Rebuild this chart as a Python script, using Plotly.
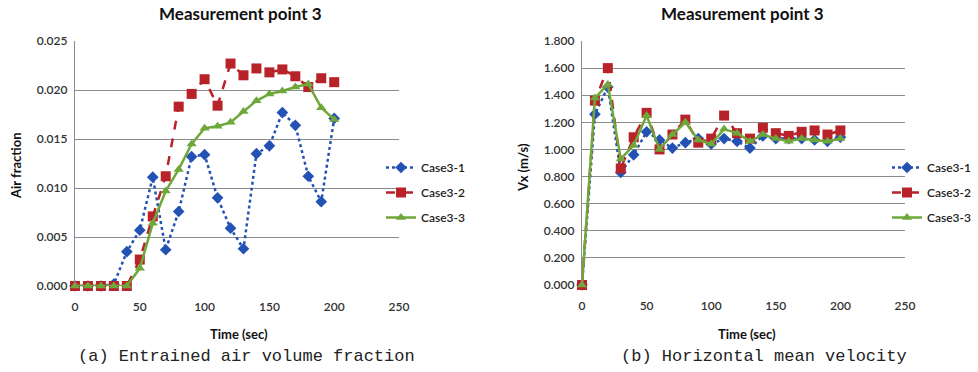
import plotly.graph_objects as go

time_s = [0, 10, 20, 30, 40, 50, 60, 70, 80, 90, 100, 110, 120, 130, 140, 150, 160, 170, 180, 190, 200]

air_case1 = [0, 0, 0, 0.0002, 0.0035, 0.0057, 0.0111, 0.0037, 0.0076, 0.0132, 0.0134, 0.0090, 0.0059, 0.0038,
             0.0135, 0.0143, 0.0177, 0.0164, 0.0112, 0.0086, 0.0171]
air_case2 = [0, 0, 0, 0, 0, 0.0027, 0.0071, 0.0112, 0.0183, 0.0196, 0.0211, 0.0184, 0.0227, 0.0215,
             0.0222, 0.0218, 0.0221, 0.0214, 0.0203, 0.0212, 0.0208]
air_case3 = [0, 0, 0, 0, 0, 0.0018, 0.0064, 0.0097, 0.0119, 0.0145, 0.0161, 0.0163, 0.0167, 0.0178,
             0.0189, 0.0196, 0.0199, 0.0203, 0.0206, 0.0182, 0.0170]

vx_case1 = [0, 1.26, 1.46, 0.83, 0.96, 1.13, 1.07, 1.01, 1.05, 1.08, 1.04, 1.08, 1.06, 1.01,
            1.10, 1.08, 1.08, 1.08, 1.07, 1.06, 1.09]
vx_case2 = [0, 1.36, 1.60, 0.86, 1.09, 1.27, 1.00, 1.11, 1.22, 1.05, 1.08, 1.25, 1.12, 1.08,
            1.16, 1.12, 1.10, 1.13, 1.14, 1.11, 1.14]
vx_case3 = [0, 1.38, 1.48, 0.93, 1.03, 1.25, 1.00, 1.11, 1.20, 1.07, 1.04, 1.15, 1.12, 1.06,
            1.11, 1.08, 1.06, 1.08, 1.07, 1.06, 1.08]

case_names = ["Case3-1", "Case3-2", "Case3-3"]
x_ticks = [0, 50, 100, 150, 200, 250]

W, H = 978, 372
colors = ["#2452b4", "#b8232a", "#6fa83a"]
dashes = ["dot", "dash", "solid"]
symbols = ["diamond", "square", "triangle-up"]
msizes = [9, 10, 9]
FONT = "Lato"

fig = go.Figure()

def px_x(p):
    return p / W

def px_y(p):
    return 1 - p / H

left_series = [air_case1, air_case2, air_case3]
right_series = [vx_case1, vx_case2, vx_case3]

for i, (name, ys) in enumerate(zip(case_names, left_series)):
    fig.add_trace(go.Scatter(
        x=time_s, y=ys, name=name, mode="lines+markers", cliponaxis=False,
        line=dict(color=colors[i], width=2.5, dash=dashes[i]),
        marker=dict(symbol=symbols[i], size=msizes[i], color=colors[i]),
        xaxis="x", yaxis="y", legend="legend", legendgroup="L" + str(i),
    ))
for i, (name, ys) in enumerate(zip(case_names, right_series)):
    fig.add_trace(go.Scatter(
        x=time_s, y=ys, name=name, mode="lines+markers", cliponaxis=False,
        line=dict(color=colors[i], width=2.5, dash=dashes[i]),
        marker=dict(symbol=symbols[i], size=msizes[i], color=colors[i]),
        xaxis="x2", yaxis="y2", legend="legend2", legendgroup="R" + str(i),
    ))

grid_col = "#8c8c8c"
tickfont = dict(family=FONT, size=12, color="#333333", weight=600)

common_x = dict(range=[0, 250], tickvals=x_ticks, showgrid=False, zeroline=False,
                showline=False, ticks="outside", ticklen=10, tickcolor="rgba(0,0,0,0)",
                tickfont=tickfont, fixedrange=True, automargin=False)
common_y = dict(showgrid=True, gridcolor=grid_col, gridwidth=1.2, zeroline=False,
                showline=True, linecolor=grid_col, linewidth=1.2, ticks="outside",
                ticklen=4, tickcolor="rgba(0,0,0,0)", automargin=False,
                tickfont=tickfont, tickformat=".3f", fixedrange=True)

legfont = dict(family=FONT, size=12, color="#222222", weight=600)

fig.update_layout(
    width=W, height=H,
    margin=dict(l=0, r=0, t=0, b=0, autoexpand=False),
    paper_bgcolor="white", plot_bgcolor="white",
    font=dict(family=FONT, size=11, color="#222222"),
    xaxis=dict(domain=[px_x(75), px_x(399)], anchor="y", **common_x),
    yaxis=dict(domain=[px_y(286), px_y(41)], anchor="x", range=[0, 0.025], dtick=0.005, **common_y),
    xaxis2=dict(domain=[px_x(582), px_x(905)], anchor="y2", **common_x),
    yaxis2=dict(domain=[px_y(285), px_y(41)], anchor="x2", range=[0, 1.8], dtick=0.2, **common_y),
    legend=dict(x=px_x(381), y=px_y(153), xanchor="left", yanchor="top",
                font=legfont, bgcolor="rgba(0,0,0,0)", tracegroupgap=6, itemwidth=30),
    legend2=dict(x=px_x(887), y=px_y(153), xanchor="left", yanchor="top",
                 font=legfont, bgcolor="rgba(0,0,0,0)", tracegroupgap=6, itemwidth=30),
    showlegend=True,
)

def ann(text, x, y, size, bold=False, family=FONT, angle=0, color="#111111"):
    fig.add_annotation(
        text=("<b>%s</b>" % text) if bold else text,
        x=px_x(x), y=px_y(y), xref="paper", yref="paper",
        xanchor="center", yanchor="middle", showarrow=False, textangle=angle,
        font=dict(family=family, size=size, color=color),
    )

ann("Measurement point 3", 240, 14, 17, bold=True)
ann("Measurement point 3", 742, 14, 17, bold=True)
ann("Time (sec)", 239, 334, 13, bold=True)
ann("Time (sec)", 747, 334, 13, bold=True)
ann("Air fraction", 16, 166, 13, bold=True, angle=-90)
ann("Vx (m/s)", 523, 168, 13, bold=True, angle=-90)
ann("(a) Entrained air volume fraction", 246, 356, 17, family="Liberation Mono", color="#222222")
ann("(b) Horizontal mean velocity", 764, 356, 17, family="Liberation Mono", color="#222222")

fig.write_html(
    "out.html",
    config={"displayModeBar": False, "staticPlot": False},
    post_script="document.body.style.margin='0';document.body.style.padding='0';document.body.style.overflow='hidden';",
)
